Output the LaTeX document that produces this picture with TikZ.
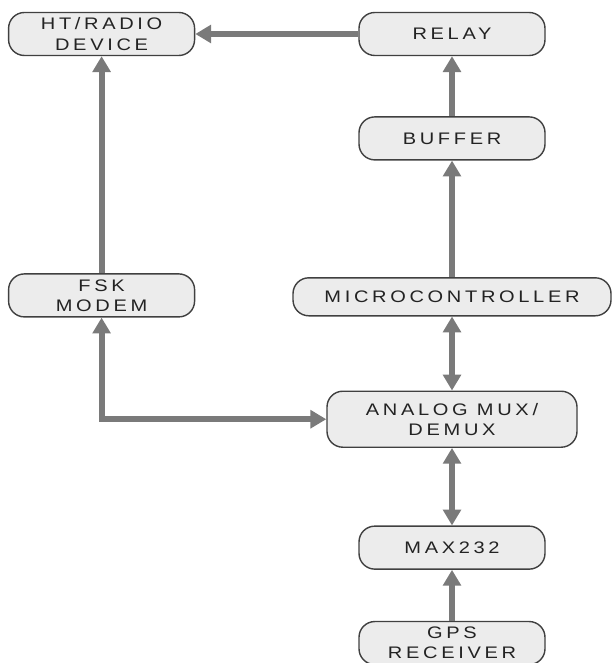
\documentclass[tikz,border=0pt]{standalone}
\usepackage{fontspec}
\usepackage{tikz}
\usetikzlibrary{positioning,arrows.meta}
\newfontfamily\blockfont{Liberation Sans}[FakeStretch=1.2,LetterSpace=22]
\definecolor{linkgray}{RGB}{122,122,122}
\definecolor{boxgray}{RGB}{236,236,236}
\definecolor{labelgray}{RGB}{35,35,35}

\begin{document}
\begin{tikzpicture}[
    block/.style={rectangle, rounded corners=9pt, draw=black!75, line width=0.8pt, fill=boxgray, minimum height=0.86cm, minimum width=3.72cm, inner sep=1pt, align=center, text=labelgray, font=\blockfont\fontsize{9.5pt}{11.5pt}\selectfont},
    wide/.style={block, minimum width=6.36cm, minimum height=0.76cm},
    mux/.style={block, minimum width=5cm, minimum height=1.12cm},
    arrow/.style={-{Triangle[width=10pt,length=9pt]}, line width=3.4pt, color=linkgray},
    both/.style={arrow, {Triangle[width=10pt,length=9pt]}-{Triangle[width=10pt,length=9pt]}}
]
\useasboundingbox (0,0) rectangle (12.28,-13.26);

\node[block] (relay) at (9.04,-0.68) {RELAY};
\node[block, left=3.26cm of relay] (radio) {HT/RADIO\\DEVICE};
\node[block, below=4.34cm of radio] (fsk) {FSK\\MODEM};

\node[block, below=1.2cm of relay] (buffer) {BUFFER};
\node[wide, below=2.33cm of buffer] (micro) {MICROCONTROLLER};
\node[mux, below=1.48cm of micro] (analog) {ANALOG MUX/\\DEMUX};
\node[block, below=1.55cm of analog] (max) {MAX232};
\node[block, below=1.02cm of max] (gps) {GPS\\RECEIVER};

\draw[arrow] (relay) -- (radio);
\draw[arrow] (buffer) -- (relay);
\draw[arrow] (micro) -- (buffer);
\draw[arrow] (fsk) -- (radio);
\draw[both] (micro) -- (analog);
\draw[both] (analog) -- (max);
\draw[arrow] (gps) -- (max);
\draw[both] (analog.west) -| (fsk.south);

\end{tikzpicture}
\end{document}
